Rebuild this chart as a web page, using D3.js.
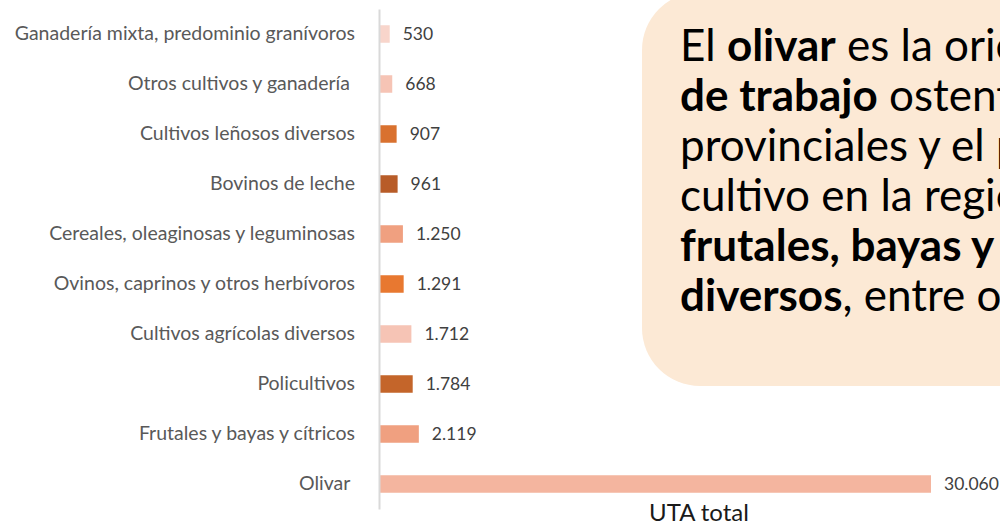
<!DOCTYPE html>
<html><head><meta charset="utf-8">
<script src="https://cdn.jsdelivr.net/npm/d3@7"></script>
<style>
html,body{margin:0;padding:0;background:#fff;}
svg{display:block;}
text{white-space:pre;}
</style></head>
<body>
<svg id="c" width="1000" height="522"></svg>
<script>
const categories = [
  "Ganadería mixta, predominio granívoros",
  "Otros cultivos y ganadería ",
  "Cultivos leñosos diversos",
  "Bovinos de leche",
  "Cereales, oleaginosas y leguminosas",
  "Ovinos, caprinos y otros herbívoros",
  "Cultivos agrícolas diversos",
  "Policultivos",
  "Frutales y bayas y cítricos",
  "Olivar "
];
const values = [530, 668, 907, 961, 1250, 1291, 1712, 1784, 2119, 30060];
const valueLabels = ["530","668","907","961","1.250","1.291","1.712","1.784","2.119","30.060"];
const barColors = ["#f8d5cb","#f6c4b5","#d9712f","#b85c28","#f0a080","#e87830","#f6c4b5","#c4652a","#f0a080","#f4b59f"];
const axisTitle = "UTA total";
const boxLines = [
  [["El ",false],["olivar",true],[" es la orientación",false]],
  [["de trabajo",true],[" ostenta",false]],
  [["provinciales y el principal",false]],
  [["cultivo en la región",false]],
  [["frutales, bayas y cítricos",true]],
  [["diversos",true],[", entre otros",false]]
];

const svg = d3.select("#c");
const font = "Lato, 'Open Sans', sans-serif";

const x = d3.scaleLinear().domain([0, 30060]).range([380, 931]);
const y = d3.scaleBand().domain(categories).range([9, 509]).paddingInner(0.65).paddingOuter(0.325);

// text box
svg.append("rect")
  .attr("x", 642).attr("y", -8).attr("width", 480).attr("height", 394)
  .attr("rx", 58).attr("ry", 58).attr("fill", "#fce9d5");

boxLines.forEach((line, i) => {
  const t = svg.append("text").attr("font-family", font).attr("font-size", 44).attr("fill", "#000")
    .attr("x", 680).attr("y", 61 + i * 50);
  line.forEach(([s, b]) => t.append("tspan").text(s).attr("font-weight", b ? 700 : 400));
});

// bars
svg.selectAll("rect.bar").data(values).join("rect").attr("class", "bar")
  .attr("x", x(0)).attr("y", (d, i) => y(categories[i]))
  .attr("width", d => x(d) - x(0)).attr("height", y.bandwidth())
  .attr("fill", (d, i) => barColors[i]);

// axis line + category labels
const yAxis = d3.axisLeft(y).tickSize(0).tickPadding(24);
const g = svg.append("g").attr("transform", `translate(${x(0) - 1},0)`).call(yAxis);
g.select(".domain").attr("stroke", "#d9d9d9").attr("stroke-width", 2);
g.selectAll(".tick text").attr("font-family", font).attr("font-size", 19.5).attr("fill", "#595959");

// value labels
svg.selectAll("text.val").data(values).join("text").attr("class", "val")
  .attr("x", d => x(d) + 13).attr("y", (d, i) => y(categories[i]) + y.bandwidth() / 2)
  .attr("dy", "0.35em").attr("font-family", font).attr("font-size", 17.5).attr("fill", "#404040")
  .text((d, i) => valueLabels[i]);

svg.append("text").attr("x", 699).attr("y", 521).attr("text-anchor", "middle")
  .attr("font-family", font).attr("font-size", 24).attr("fill", "#1a1a1a").text(axisTitle);
</script>
</body></html>
